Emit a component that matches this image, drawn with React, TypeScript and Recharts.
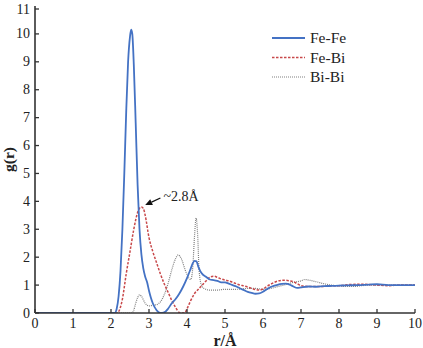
import React from "react";
import { LineChart, Line, XAxis, YAxis, Legend, ReferenceLine } from "recharts";

const xTicks = [0, 1, 2, 3, 4, 5, 6, 7, 8, 9, 10];
const yTicks = [0, 1, 2, 3, 4, 5, 6, 7, 8, 9, 10, 11];
const seriesNames = ["Fe-Fe", "Fe-Bi", "Bi-Bi"];
const annotationText = "~2.8Å";

const feFeR = [0, 2.0, 2.1, 2.15, 2.2, 2.25, 2.3, 2.35, 2.4, 2.45, 2.5, 2.53, 2.56, 2.6, 2.65, 2.7, 2.75, 2.8, 2.85, 2.9, 2.95, 3.0, 3.05, 3.1, 3.2, 3.3, 3.4, 3.5, 3.6, 3.7, 3.8, 3.9, 4.0, 4.1, 4.15, 4.2, 4.25, 4.3, 4.35, 4.4, 4.5, 4.6, 4.7, 4.8, 4.9, 5.0, 5.1, 5.2, 5.3, 5.4, 5.5, 5.6, 5.7, 5.8, 5.9, 6.0, 6.1, 6.2, 6.3, 6.4, 6.5, 6.6, 6.7, 6.8, 6.9, 7.0, 7.2, 7.4, 7.6, 7.8, 8.0, 8.2, 8.5, 8.8, 9.0, 9.3, 9.6, 10];
const feFeG = [0, 0, 0, 0.15, 0.6, 1.5, 3.0, 5.0, 7.2, 9.0, 9.9, 10.15, 10.0, 8.9, 6.8, 4.6, 3.0, 2.1, 1.6, 1.3, 1.1, 0.8, 0.55, 0.35, 0.1, 0.0, 0.02, 0.15, 0.35, 0.5, 0.7, 0.95, 1.25, 1.6, 1.78, 1.87, 1.85, 1.65, 1.5, 1.4, 1.3, 1.2, 1.18, 1.15, 1.1, 1.1, 1.05, 1.0, 0.95, 0.88, 0.82, 0.76, 0.72, 0.69, 0.7, 0.76, 0.85, 0.93, 0.98, 1.02, 1.04, 1.05, 1.02, 0.95, 0.9, 0.92, 0.95, 0.94, 0.96, 0.97, 0.98, 0.99, 1.0, 1.02, 1.03, 1.0, 1.0, 1.0];

const feBiR = [0, 2.15, 2.2, 2.3, 2.4, 2.5, 2.6, 2.7, 2.8, 2.85, 2.9, 3.0, 3.1, 3.2, 3.3, 3.4, 3.5, 3.6, 3.7, 3.8, 3.9, 3.95, 4.0, 4.1, 4.2, 4.3, 4.4, 4.5, 4.6, 4.7, 4.8, 4.9, 5.0, 5.1, 5.2, 5.3, 5.4, 5.5, 5.6, 5.7, 5.8, 5.9, 6.0, 6.1, 6.2, 6.3, 6.4, 6.5, 6.6, 6.7, 6.8, 6.9, 7.0, 7.2, 7.5, 7.8, 8.0, 8.3, 8.6, 9.0, 9.3, 9.6, 10];
const feBiG = [0, 0, 0.05, 0.5, 1.4, 2.2, 3.0, 3.6, 3.8, 3.75, 3.5, 2.7, 2.2, 1.8, 1.4, 1.05, 0.75, 0.45, 0.2, 0.02, 0.0, 0.02, 0.15, 0.45, 0.7, 0.85, 1.0, 1.15, 1.28, 1.32, 1.28, 1.22, 1.18, 1.15, 1.1, 1.05, 1.0, 0.97, 0.93, 0.88, 0.84, 0.82, 0.86, 0.95, 1.03, 1.1, 1.15, 1.17, 1.17, 1.15, 1.12, 1.05, 0.98, 0.95, 0.95, 0.97, 0.98, 1.02, 1.03, 1.0, 0.98, 1.0, 1.0];

const biBiR = [0, 2.55, 2.6, 2.65, 2.7, 2.75, 2.8, 2.9, 3.0, 3.1, 3.2, 3.3, 3.4, 3.5, 3.6, 3.7, 3.77, 3.85, 3.95, 4.05, 4.1, 4.15, 4.2, 4.24, 4.28, 4.32, 4.38, 4.45, 4.6, 4.8, 5.0, 5.3, 5.6, 5.8, 6.0, 6.2, 6.4, 6.6, 6.8, 7.0, 7.1, 7.2, 7.4, 7.6, 7.8, 8.0, 8.2, 8.4, 8.6, 8.8, 9.0, 9.5, 10];
const biBiG = [0, 0, 0.1, 0.35, 0.55, 0.65, 0.6, 0.35, 0.25, 0.28, 0.3, 0.4, 0.65, 1.05, 1.55, 1.95, 2.08, 1.95, 1.55, 1.25, 1.2, 1.6, 2.8, 3.4, 2.8, 1.5, 1.0, 0.88, 0.82, 0.82, 0.85, 0.85, 0.88, 0.88, 0.85, 0.88, 0.95, 1.02, 1.1, 1.15, 1.2, 1.18, 1.12, 1.05, 1.0, 0.97, 0.95, 0.95, 0.98, 1.0, 1.0, 1.0, 1.0];

const toData = (rs: number[], gs: number[]) => rs.map((r, i) => ({ r, g: gs[i] }));
const feFeData = toData(feFeR, feFeG);
const feBiData = toData(feBiR, feBiG);
const biBiData = toData(biBiR, biBiG);

const BLUE = "#4472C4";
const RED = "#C8484A";
const GRAY = "#808080";
const AXIS = "#333333";
const FONT = "'Liberation Serif', 'Times New Roman', serif";

const XTick = (props: any) => {
  const { x, y, payload } = props;
  const base = y - 3;
  return (
    <g>
      <line x1={x} x2={x} y1={base} y2={base - 4} stroke={AXIS} strokeWidth={1.3} />
      <text x={x} y={y + 12} textAnchor="middle" style={{ fontFamily: FONT }} fontSize={14} fill="#222">
        {payload.value}
      </text>
    </g>
  );
};

const YTick = (props: any) => {
  const { x, y, payload } = props;
  const base = x + 5;
  return (
    <g>
      <line x1={base} x2={base + 4} y1={y} y2={y} stroke={AXIS} strokeWidth={1.3} />
      <text x={x} y={y + 4.5} textAnchor="end" style={{ fontFamily: FONT }} fontSize={14} fill="#222">
        {payload.value}
      </text>
    </g>
  );
};

const LegendContent = () => {
  const styles = [
    { color: BLUE, dash: undefined, w: 1.8 },
    { color: RED, dash: "2.5 1.5", w: 1.3 },
    { color: GRAY, dash: "1 1", w: 1.2 },
  ];
  return (
    <svg width={130} height={60}>
      {seriesNames.map((n, i) => (
        <g key={n}>
          <line x1={2} x2={35} y1={10 + i * 19.5} y2={10 + i * 19.5} stroke={styles[i].color} strokeWidth={styles[i].w} strokeDasharray={styles[i].dash} />
          <text x={40} y={15 + i * 19.5} style={{ fontFamily: FONT }} fontSize={15.5} fill="#222">
            {n}
          </text>
        </g>
      ))}
    </svg>
  );
};

const ArrowShape = (props: any) => {
  const { x1, y1, x2, y2 } = props;
  const dx = x2 - x1;
  const dy = y2 - y1;
  const len = Math.sqrt(dx * dx + dy * dy) || 1;
  const ux = dx / len;
  const uy = dy / len;
  const hl = 7;
  const hw = 3.2;
  const bx = x2 - ux * hl;
  const by = y2 - uy * hl;
  const p1 = `${x2},${y2}`;
  const p2 = `${bx - uy * hw},${by + ux * hw}`;
  const p3 = `${bx + uy * hw},${by - ux * hw}`;
  return (
    <g>
      <line x1={x1} y1={y1} x2={bx} y2={by} stroke="#111" strokeWidth={1.3} />
      <polygon points={`${p1} ${p2} ${p3}`} fill="#111" />
      <text x={x1 + 3} y={y1 + 3} style={{ fontFamily: FONT }} fontSize={14} fill="#222">
        {annotationText}
      </text>
    </g>
  );
};

export default function App() {
  return (
    <div style={{ position: "absolute", left: 0, top: 0, background: "#fff" }}>
      <LineChart width={423} height={348} margin={{ top: 6, right: 8, left: 0, bottom: 0 }}>
        <XAxis
          dataKey="r"
          type="number"
          domain={[0, 10]}
          ticks={xTicks}
          allowDataOverflow
          height={35}
          tickSize={0}
          tickMargin={3}
          tick={<XTick />}
          axisLine={{ stroke: AXIS, strokeWidth: 1.6 }}
          label={{ value: "r/Å", position: "insideBottom", offset: 0, dy: -2, style: { fontFamily: FONT, fontSize: 16, fontWeight: "bold", fill: "#222" } }}
        />
        <XAxis xAxisId="top" orientation="top" type="number" domain={[0, 10]} height={0} tick={false} tickLine={false} axisLine={{ stroke: AXIS, strokeWidth: 1.6 }} />
        <YAxis
          type="number"
          domain={[0, 11]}
          ticks={yTicks}
          allowDataOverflow
          width={35}
          tickSize={0}
          tickMargin={5}
          tick={<YTick />}
          axisLine={{ stroke: AXIS, strokeWidth: 1.6 }}
          label={{ value: "g(r)", angle: -90, position: "insideLeft", offset: 8, style: { fontFamily: FONT, fontSize: 15.5, fontWeight: "bold", fill: "#222", textAnchor: "middle" } }}
        />
        <YAxis yAxisId="right" orientation="right" type="number" domain={[0, 11]} width={0} tick={false} tickLine={false} axisLine={{ stroke: AXIS, strokeWidth: 1.6 }} />
        <Legend
          layout="horizontal"
          verticalAlign="middle"
          align="center"
          content={<LegendContent />}
          wrapperStyle={{ position: "absolute", top: 28, left: 270, width: 130, height: 60 }}
        />
        <Line data={biBiData} dataKey="g" name="Bi-Bi" type="monotone" stroke={GRAY} strokeWidth={1.2} strokeDasharray="1 1" dot={false} isAnimationActive={false} />
        <Line data={feBiData} dataKey="g" name="Fe-Bi" type="monotone" stroke={RED} strokeWidth={1.5} strokeDasharray="2.5 1.5" dot={false} isAnimationActive={false} />
        <Line data={feFeData} dataKey="g" name="Fe-Fe" type="monotone" stroke={BLUE} strokeWidth={1.8} dot={false} isAnimationActive={false} />
        <ReferenceLine
          segment={[{ x: 3.3, y: 4.12 }, { x: 2.9, y: 3.87 }]}
          shape={<ArrowShape />}
        />
      </LineChart>
    </div>
  );
}
